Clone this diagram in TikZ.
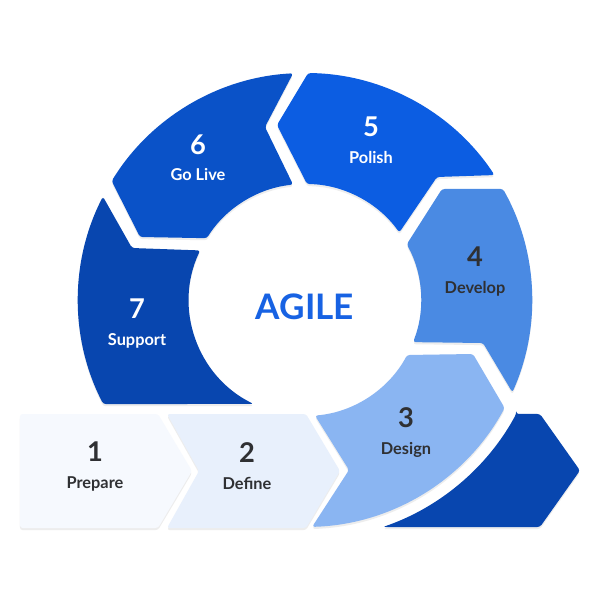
\documentclass[tikz,border=0pt]{standalone}
\usepackage{fontspec}
\setmainfont{Lato}
\usepackage{tikz}
\usetikzlibrary{shadows}

\definecolor{cprep}{HTML}{F6F9FE}
\definecolor{cdef}{HTML}{E8F0FC}
\definecolor{cdes}{HTML}{8AB5F2}
\definecolor{cdev}{HTML}{4A8AE3}
\definecolor{cpol}{HTML}{0C5DE2}
\definecolor{cgo}{HTML}{0A52C8}
\definecolor{csup}{HTML}{0846AF}
\definecolor{ctext}{HTML}{2F3033}
\definecolor{cagile}{HTML}{1762E3}

\begin{document}
\begin{tikzpicture}[x=0.02cm, y=0.02cm,
  seg/.style={rounded corners=1.5pt, drop shadow={shadow xshift=0pt, shadow yshift=-1.2pt, opacity=0.14}},
  num/.style={font=\fontsize{15.5}{18}\selectfont\bfseries},
  lab/.style={font=\fontsize{9.3}{11}\selectfont\bfseries, anchor=base}]

  \def\Ro{227};
  \def\Ri{116};

  \fill[white] (0,0) rectangle (600,600);
  \useasboundingbox (0,0) rectangle (600,600);

  %ring around the centre
  \begin{scope}[shift={(305,300)}]
    \foreach \ao/\bo/\tx/\ty/\bi/\ai/\nx/\ny/\col in {-88.2/-28.4/168/-54/-28.3/-85.05/44/-170/cdes,
        -24/29.3/137/111/28.7/-21.3/178/-43/cdev,
        33.4/89.2/-28/175/89/35.6/132/123/cpol,
        93/148.4/-165/63/147.8/95.9/-40/173/cgo,
        152.9/207.3/-120/-104/243.7/154.7/-173/52/csup}{
      \fill[seg, \col] (\ao:\Ro) arc[start angle=\ao, end angle=\bo, radius=\Ro] -- (\tx,\ty)
        -- (\bi:\Ri) arc[start angle=\bi, end angle=\ai, radius=\Ri] -- (\nx,\ny) -- cycle;
    }
    \fill[seg, csup] (-28.36:240) -- (235,-114) -- (275,-170.5) -- (235,-227) -- (-71.06:240)
      arc[start angle=-71.06, end angle=-28.36, radius=240] -- cycle;
  \end{scope}

  %chevrons
  \foreach \xa/\xb/\dn/\col in {20/158/0/cprep, 167/306/32/cdef}{
    \fill[seg, \col] (\xa,186) -- (\xb,186) -- (\xb+34,129) -- (\xb,72) -- (\xa,72) -- (\xa+\dn,129) -- cycle;
  }

  %labels
  \foreach \x/\y/\num/\lab/\col/\name in {95/148/1/Prepare/ctext/prepare, 247/147/2/Define/ctext/define,
      406/182/3/Design/ctext/design, 475/343/4/Develop/ctext/develop, 371/473/5/Polish/white/polish,
      198/455/6/Go Live/white/golive, 137/291/7/Support/white/support}{
    \node[num, text=\col] (n\name) at (\x,\y) {\num};
    \node[lab, text=\col] (l\name) at (\x,\y-36) {\lab};
  }

  \node[font=\fontsize{20}{24}\selectfont\bfseries, text=cagile] (agile) at (305,293) {AGILE};

\end{tikzpicture}
\end{document}
